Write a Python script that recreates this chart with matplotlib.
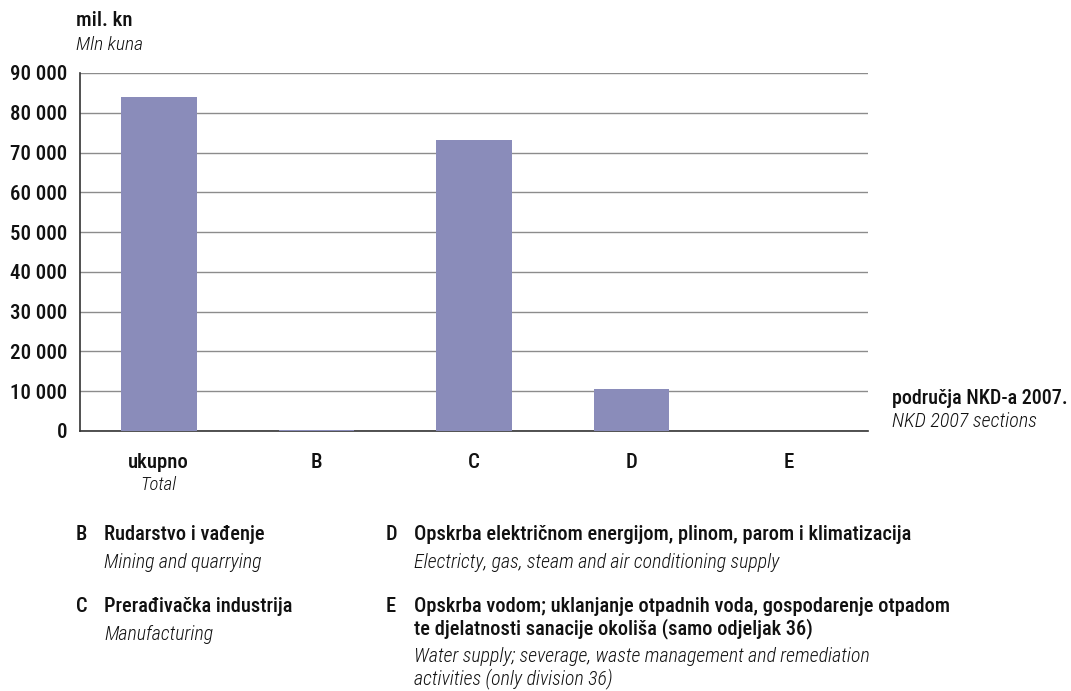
import numpy as np
import matplotlib
matplotlib.use('Agg')
import matplotlib.pyplot as plt
from matplotlib import font_manager

# prefer a narrow face, like the condensed grotesque of the original
names = {f.name for f in font_manager.fontManager.ttflist}
family = ['DejaVu Sans']
for cand in ['Liberation Sans Narrow', 'Roboto Condensed', 'Open Sans Condensed']:
    if cand in names:
        family = [cand, 'DejaVu Sans']
        break
plt.rcParams['font.family'] = family
plt.rcParams['font.stretch'] = 'condensed'

# data (mil. kn)
categories = ['ukupno', 'B', 'C', 'D', 'E']
cat_en = ['Total', '', '', '', '']
values = [83900, 250, 73100, 10500, 30]
yticks = np.arange(0, 90001, 10000)

legend_codes = ['B', 'C', 'D', 'E']
legend_hr = [['Rudarstvo i vađenje'],
             ['Prerađivačka industrija'],
             ['Opskrba električnom energijom, plinom, parom i klimatizacija'],
             ['Opskrba vodom; uklanjanje otpadnih voda, gospodarenje otpadom',
              'te djelatnosti sanacije okoliša (samo odjeljak 36)']]
legend_en = [['Mining and quarrying'],
             ['Manufacturing'],
             ['Electricty, gas, steam and air conditioning supply'],
             ['Water supply; severage, waste management and remediation',
              'activities (only division 36)']]

bar_color = '#8a8cba'
txt = '#111111'
W, H = 1071, 691

fig = plt.figure(figsize=(W/100, H/100), dpi=100)
ax = fig.add_axes([80/W, 1-431/H, 788/W, 358/H])

x = np.arange(len(categories))
ax.bar(x, values, width=0.48, color=bar_color, zorder=3)
ax.set_xlim(-0.5, len(categories) - 0.5)
ax.set_ylim(0, 90000)
ax.set_yticks(yticks)
ax.set_yticklabels([f'{v:,}'.replace(',', ' ') for v in yticks],
                   fontsize=15, color=txt, weight='medium')
ax.yaxis.grid(True, color='#8c8c8c', linewidth=1.0, zorder=0)
ax.tick_params(axis='y', length=0, pad=9)
ax.tick_params(axis='x', length=0)
ax.set_xticks([])
for s in ['top', 'right']:
    ax.spines[s].set_visible(False)
ax.spines['left'].set_color('#333333')
ax.spines['bottom'].set_color('#333333')
ax.spines['left'].set_linewidth(1.2)
ax.spines['bottom'].set_linewidth(1.2)

# category labels under the axis
for i, (c, e) in enumerate(zip(categories, cat_en)):
    ax.annotate(c, (i, 0), xytext=(0, -23), textcoords='offset points',
                ha='center', va='center', fontsize=15, color=txt,
                weight='medium')
    if e:
        ax.annotate(e, (i, 0), xytext=(0, -39), textcoords='offset points',
                    ha='center', va='center', fontsize=13.5, style='italic',
                    color=txt, weight='light')

# axis titles
fig.text(76/W, 1-20/H, 'mil. kn', fontsize=15, color=txt, va='center',
         weight='medium')
fig.text(76/W, 1-45/H, 'Mln kuna', fontsize=14, style='italic',
         color=txt, va='center', weight='light')
fig.text(892/W, 1-398/H, 'područja NKD-a 2007.', fontsize=14.5,
         color=txt, va='center', weight='medium')
fig.text(892/W, 1-422/H, 'NKD 2007 sections', fontsize=14.5,
         style='italic', color=txt, va='center', weight='light')

# legend block, one text per line
pos = [(76, 534), (76, 607), (386, 534), (386, 607)]
for (px, py), code, hr, en in zip(pos, legend_codes, legend_hr, legend_en):
    fig.text(px/W, 1-py/H, code, fontsize=14.7, color=txt, va='center',
             weight='medium')
    y = py
    for line in hr:
        fig.text((px+28)/W, 1-y/H, line, fontsize=14.7, color=txt,
                 va='center', weight='medium')
        y += 22
    y += 6
    for line in en:
        fig.text((px+28)/W, 1-y/H, line, fontsize=14.3, style='italic',
                 color=txt, va='center', weight='light')
        y += 22

fig.savefig('out.png', dpi=100)
